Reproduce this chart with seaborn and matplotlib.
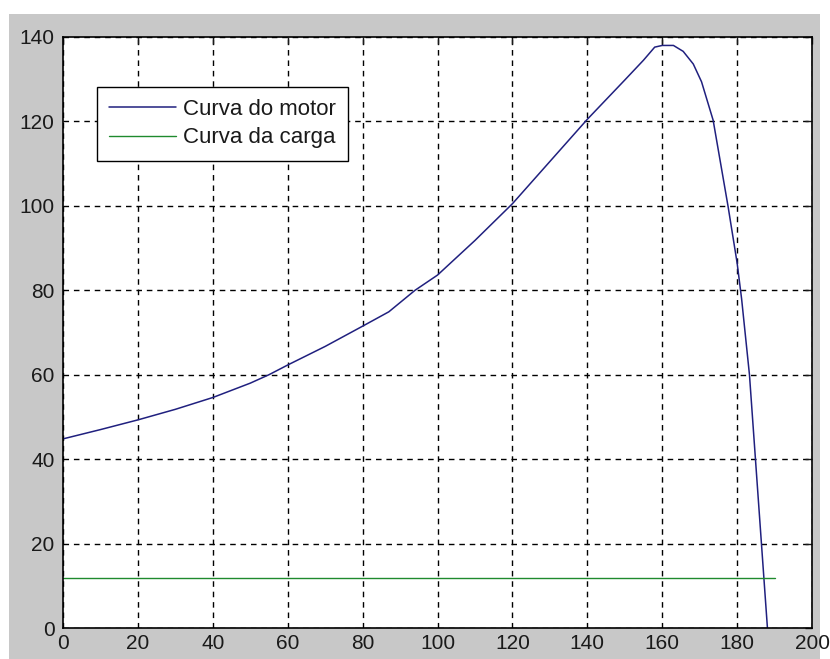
import matplotlib
matplotlib.use("Agg")
import matplotlib.pyplot as plt
from matplotlib.patches import Rectangle
import seaborn as sns
import pandas as pd

# Data
motor_x = [0, 10, 20, 30, 40, 50, 55, 60, 70, 80, 87, 94, 100, 110, 120, 130, 140,
           150, 155, 158, 160, 163, 165.6, 168.3, 170.5, 173.6, 177.6, 180, 181.2,
           183.3, 184.9, 186.5, 188.1]
motor_y = [44.8, 47.0, 49.3, 51.8, 54.6, 58.0, 60.0, 62.3, 66.7, 71.5, 74.9, 80.0, 83.6,
           91.8, 100.5, 110.5, 120.5, 129.8, 134.5, 137.6, 138.0, 138.0, 136.6, 133.6,
           129.4, 120.3, 99.8, 86.5, 78.0, 60.0, 40.0, 20.0, 0.0]
load_x = [0, 190]
load_y = [11.8, 11.8]
labels = ["Curva do motor", "Curva da carga"]
x_ticks = [0, 20, 40, 60, 80, 100, 120, 140, 160, 180, 200]
y_ticks = [0, 20, 40, 60, 80, 100, 120, 140]

sns.set_style("white")
plt.rcParams["font.family"] = ["Liberation Sans", "DejaVu Sans"]

fig = plt.figure(figsize=(8.30, 6.59), dpi=100, facecolor="white")
bg = Rectangle((9 / 830, 0), 811 / 830, 645 / 659, transform=fig.transFigure,
               facecolor="#c8c8c8", edgecolor="none", zorder=-10)
fig.add_artist(bg)
ax = fig.add_axes([63 / 830, 31 / 659, 749 / 830, 591 / 659])
ax.set_zorder(1)
ax.set_facecolor("white")

df_m = pd.DataFrame({"x": motor_x, "y": motor_y})
df_l = pd.DataFrame({"x": load_x, "y": load_y})
sns.lineplot(data=df_m, x="x", y="y", sort=False, estimator=None, ax=ax,
             color="#20207f", linewidth=1.1, label=labels[0])
sns.lineplot(data=df_l, x="x", y="y", sort=False, estimator=None, ax=ax,
             color="#1f8a2e", linewidth=1.0, label=labels[1])

ax.set_xlim(0, 200)
ax.set_ylim(0, 140)
ax.set_xticks(x_ticks)
ax.set_yticks(y_ticks)
ax.set_xlabel("")
ax.set_ylabel("")
ax.grid(True, color="black", linestyle=(0, (4, 3.5)), linewidth=1.0)
ax.set_axisbelow(True)
ax.tick_params(direction="in", length=5, width=1.0, top=True, right=True,
               labelsize=15, colors="#1a1a1a", pad=4)
ax.tick_params(axis="y", pad=6)
for s in ax.spines.values():
    s.set_color("black")
    s.set_linewidth(1.2)
    s.set_visible(True)

leg = ax.legend(loc="upper left", bbox_to_anchor=(0.0454, 0.9154), borderaxespad=0,
                fontsize=16, frameon=True, fancybox=False, handlelength=3.0,
                handletextpad=0.3, labelspacing=0.32, borderpad=0.55)
leg.get_frame().set_edgecolor("black")
leg.get_frame().set_linewidth(1.0)
leg.get_frame().set_alpha(1)
for t in leg.get_texts():
    t.set_color("#1a1a1a")

fig.savefig("out.png", dpi=100, facecolor="white")
